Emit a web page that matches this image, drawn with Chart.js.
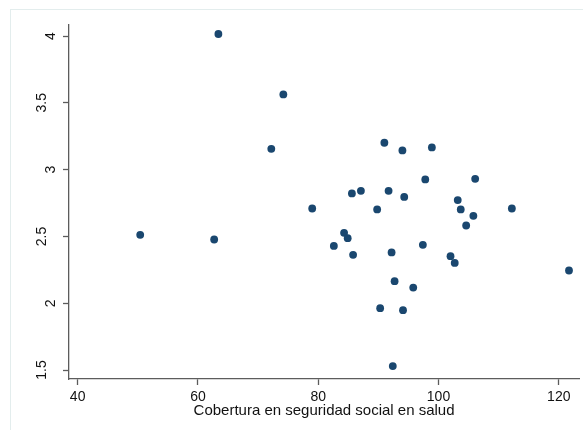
<!DOCTYPE html>
<html>
<head>
<meta charset="utf-8">
<script src="https://cdn.jsdelivr.net/npm/chart.js@4/dist/chart.umd.min.js"></script>
<style>
  html, body { margin: 0; padding: 0; background: #ffffff; }
  #wrap { position: relative; width: 583px; height: 430px; overflow: hidden; }
  #frame { position: absolute; left: 10px; top: 9px; width: 700px; height: 600px; border: 1px solid #e3eded; box-sizing: border-box; pointer-events: none; }
  canvas { position: absolute; left: 0; top: 0; }
</style>
</head>
<body>
<div id="wrap">
  <div id="frame"></div>
  <canvas id="c" width="583" height="430"></canvas>
</div>
<script>
// Data
const coverage = [63.4, 74.2, 72.2, 91.0, 94.0, 98.9, 97.8, 106.1, 85.6, 87.1, 91.7, 94.3, 103.2, 79.0, 89.8, 103.7, 112.2, 105.8, 104.6, 84.3, 84.9, 82.6, 97.4, 85.8, 92.2, 102.0, 102.7, 121.7, 92.7, 95.8, 90.3, 94.1, 92.4, 50.4, 62.7];
const yValues  = [4.015, 3.563, 3.156, 3.201, 3.144, 3.166, 2.927, 2.931, 2.822, 2.841, 2.841, 2.796, 2.772, 2.709, 2.702, 2.702, 2.709, 2.654, 2.582, 2.527, 2.487, 2.429, 2.437, 2.362, 2.380, 2.352, 2.302, 2.245, 2.165, 2.117, 1.963, 1.948, 1.530, 2.512, 2.477];
const xTicks = [40, 60, 80, 100, 120];
const yTicks = [1.5, 2, 2.5, 3, 3.5, 4];
const xTitle = 'Cobertura en seguridad social en salud';

const points = coverage.map((x, i) => ({ x: x, y: yValues[i] }));
const FONT = '"Liberation Sans", Arial, Helvetica, sans-serif';
const AXIS = '#5c5c5c';

new Chart(document.getElementById('c'), {
  type: 'scatter',
  data: {
    datasets: [{
      data: points,
      backgroundColor: '#1a476f',
      borderColor: '#1a476f',
      borderWidth: 0,
      pointRadius: 3.9,
      pointHoverRadius: 3.9
    }]
  },
  options: {
    responsive: false,
    animation: false,
    events: [],
    layout: { padding: { left: 0, right: -3, top: 25, bottom: 0 } },
    plugins: { legend: { display: false }, tooltip: { enabled: false } },
    scales: {
      x: {
        type: 'linear',
        min: 38.56,
        max: 123.38,
        afterBuildTicks: s => { s.ticks = xTicks.map(v => ({ value: v })); },
        afterFit: s => { s.height = 51; s.paddingLeft = 0; s.paddingRight = 0; },
        border: { display: true, color: AXIS, width: 1.3 },
        grid: { drawOnChartArea: false, drawTicks: true, tickLength: 6, tickColor: AXIS, tickWidth: 1.3 },
        ticks: {
          color: '#111111',
          padding: 4,
          maxRotation: 0,
          font: { family: FONT, size: 14 },
          callback: v => String(v)
        },
        title: {
          display: true,
          text: xTitle,
          color: '#111111',
          font: { family: FONT, size: 15 },
          padding: { top: 0, bottom: 10 }
        }
      },
      y: {
        type: 'linear',
        min: 1.433,
        max: 4.0824,
        afterBuildTicks: s => { s.ticks = yTicks.map(v => ({ value: v })); },
        afterFit: s => { s.width = 69; s.paddingTop = 0; s.paddingBottom = 0; },
        border: { display: true, color: AXIS, width: 1.3 },
        grid: { drawOnChartArea: false, drawTicks: true, tickLength: 6, tickColor: AXIS, tickWidth: 1.3 },
        ticks: {
          color: '#111111',
          padding: 7,
          minRotation: 90,
          maxRotation: 90,
          crossAlign: 'center',
          font: { family: FONT, size: 14, lineHeight: '9px' },
          callback: v => Number.isInteger(v) ? ['', String(v)] : [String(v), '']
        }
      }
    }
  }
});
</script>
</body>
</html>
